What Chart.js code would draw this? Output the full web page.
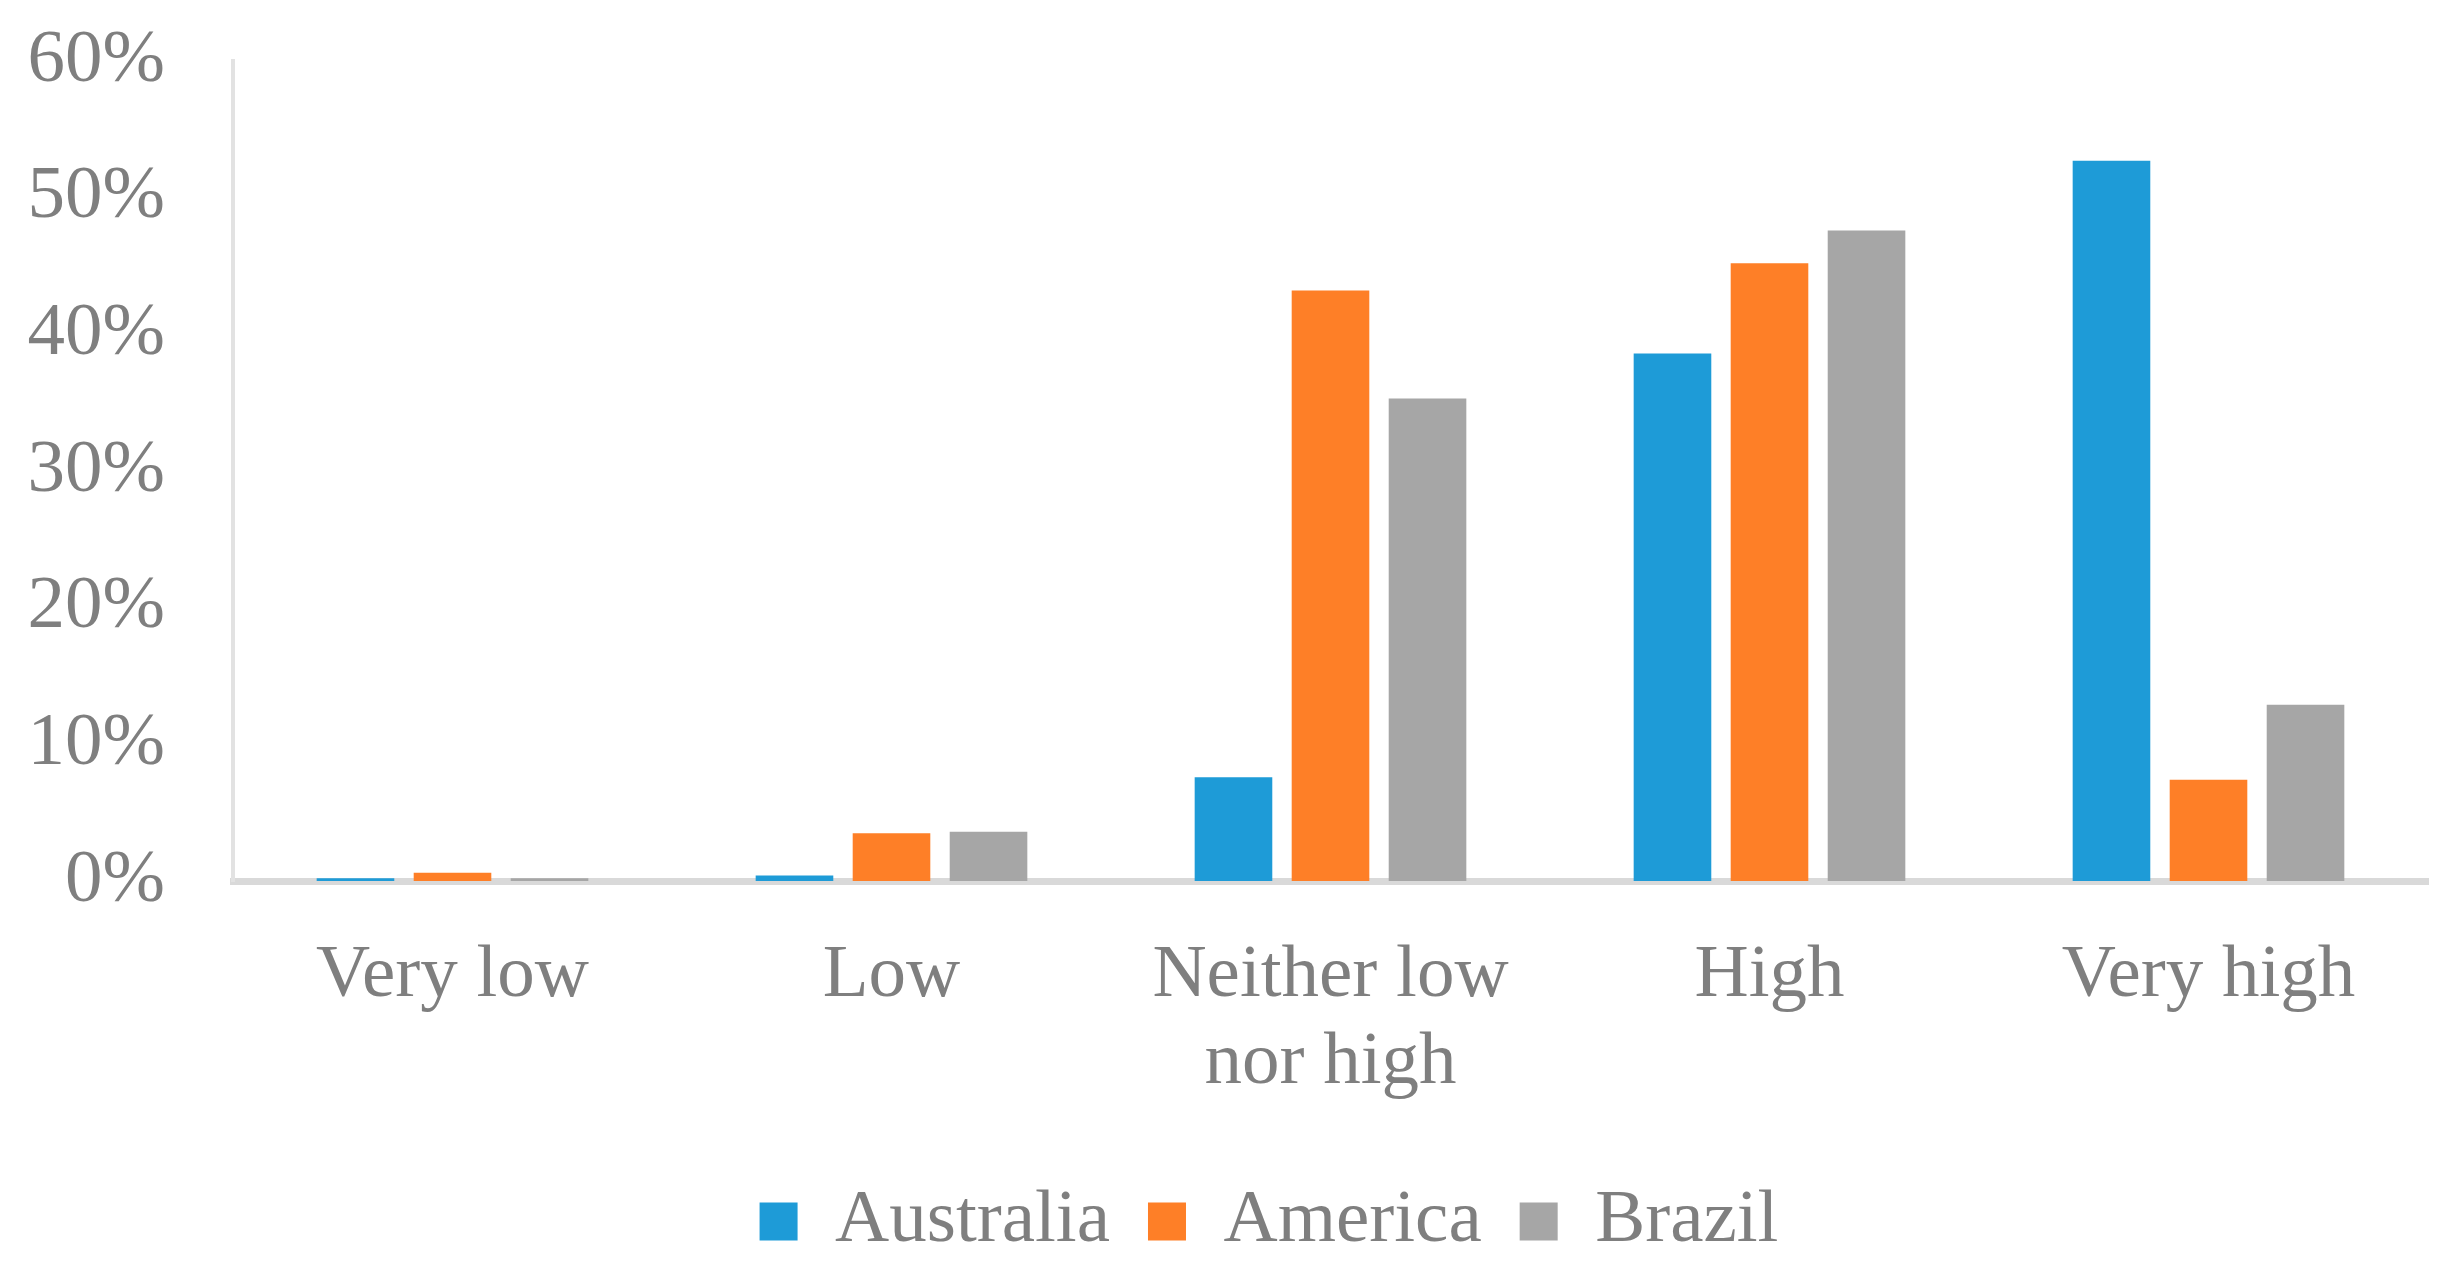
<!DOCTYPE html>
<html lang="en">
<head>
  <meta charset="UTF-8">
  <title>Level by country</title>
  <script src="https://cdn.jsdelivr.net/npm/chart.js"></script>
  <style>
    html, body { margin: 0; padding: 0; background: #ffffff; }
    #chart { display: block; }
  </style>
</head>
<body>
  <canvas id="chart" width="2459" height="1273"></canvas>
  <script>
    // categories (x axis)
    const categories = ['Very low', 'Low', ['Neither low', 'nor high'], 'High', 'Very high'];
    // values in percent
    const australia = [0.2, 0.4, 7.6, 38.6, 52.7];
    const america = [0.6, 3.5, 43.2, 45.2, 7.4];
    const brazil = [0.2, 3.6, 35.3, 47.6, 12.9];
    const yTicks = [0, 10, 20, 30, 40, 50, 60];

    const textColor = '#7f7f7f';
    const fontFamily = '"Liberation Serif", "Times New Roman", serif';

    // the legend in the original sits a bit right of centre
    const legendShift = {
      id: 'legendShift',
      afterLayout(chart) {
        chart.legend.left += 41;
        chart.legend.right += 41;
      }
    };

    const ctx = document.getElementById('chart').getContext('2d');
    const chart = new Chart(ctx, {
      type: 'bar',
      data: {
        labels: categories,
        datasets: [
          { label: 'Australia', data: australia, backgroundColor: '#1e9bd7' },
          { label: 'America', data: america, backgroundColor: '#fe7f27' },
          { label: 'Brazil', data: brazil, backgroundColor: '#a6a6a6' }
        ]
      },
      plugins: [legendShift],
      options: {
        responsive: false,
        animation: false,
        devicePixelRatio: 1,
        layout: { padding: { left: 28, right: 31, top: 61, bottom: 4 } },
        datasets: {
          bar: { categoryPercentage: 0.663, barPercentage: 0.8 }
        },
        scales: {
          x: {
            grid: { display: false, drawTicks: false },
            border: { display: true, color: '#d9d9d9', width: 7 },
            ticks: {
              color: textColor,
              padding: 52,
              maxRotation: 0,
              font: { family: fontFamily, size: 75, lineHeight: 1.16 }
            },
            // keep the label padding from widening the plot sideways
            afterFit: (scale) => {
              scale.paddingLeft = 0;
              scale.paddingRight = 0;
              scale.height = 265;
            }
          },
          y: {
            min: 0,
            max: 60,
            afterBuildTicks: (axis) => { axis.ticks = yTicks.map(v => ({ value: v })); },
            grid: { display: false, drawTicks: false },
            border: { display: true, color: '#e2e2e2', width: 4 },
            ticks: {
              color: textColor,
              padding: 68,
              callback: (v) => v + '%',
              font: { family: fontFamily, size: 75 }
            },
            afterFit: (scale) => {
              scale.paddingTop = 0;
              scale.paddingBottom = 0;
              scale.width = 205;
            }
          }
        },
        plugins: {
          tooltip: { enabled: false },
          legend: {
            position: 'bottom',
            labels: {
              color: textColor,
              boxWidth: 38,
              boxHeight: 38,
              padding: 38,
              font: { family: fontFamily, size: 75 }
            }
          }
        }
      }
    });
  </script>
</body>
</html>
